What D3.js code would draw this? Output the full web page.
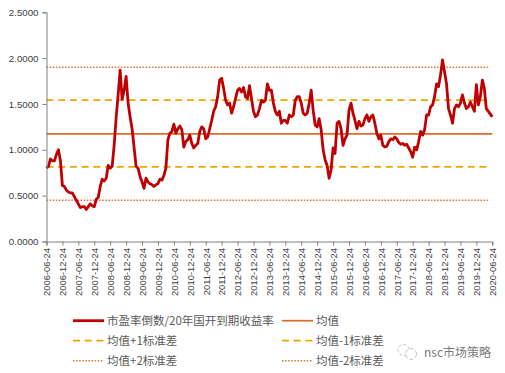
<!DOCTYPE html>
<html>
<head>
<meta charset="utf-8">
<script src="https://cdn.jsdelivr.net/npm/d3@7"></script>
<style>
    html, body { margin: 0; padding: 0; background: #fff; }
    svg { display: block; }
</style>
</head>
<body>
<svg id="chart" width="505" height="373"></svg>
<script>
var tickLabels = ["2006-06-24","2006-12-24","2007-06-24","2007-12-24","2008-06-24","2008-12-24","2009-06-24","2009-12-24",
    "2010-06-24","2010-12-24","2011-06-24","2011-12-24","2012-06-24","2012-12-24","2013-06-24","2013-12-24",
    "2014-06-24","2014-12-24","2015-06-24","2015-12-24","2016-06-24","2016-12-24","2017-06-24","2017-12-24",
    "2018-06-24","2018-12-24","2019-06-24","2019-12-24","2020-06-24"]
var yTicks = [0, 0.5, 1, 1.5, 2, 2.5]

// eight readings per half year, last one closes the axis
var ratio = [
    0.80,0.82,0.90,0.88,0.88,0.95,1.00,0.88,
    0.61,0.60,0.56,0.54,0.53,0.53,0.49,0.45,
    0.41,0.37,0.38,0.38,0.35,0.38,0.41,0.39,
    0.38,0.46,0.48,0.60,0.68,0.66,0.69,0.83,
    0.80,0.82,1.05,1.35,1.60,1.87,1.55,1.65,
    1.80,1.51,1.36,1.23,1.03,0.82,0.80,0.71,
    0.65,0.58,0.69,0.65,0.63,0.62,0.60,0.62,
    0.63,0.68,0.67,0.72,0.80,1.11,1.18,1.20,
    1.28,1.18,1.23,1.26,1.22,1.03,1.09,1.11,
    1.16,1.07,1.02,1.05,1.07,1.20,1.25,1.23,
    1.12,1.14,1.23,1.32,1.42,1.47,1.58,1.76,
    1.78,1.67,1.54,1.49,1.51,1.40,1.47,1.56,
    1.65,1.67,1.63,1.68,1.58,1.56,1.70,1.56,
    1.42,1.36,1.38,1.45,1.54,1.52,1.54,1.72,
    1.65,1.65,1.51,1.42,1.38,1.42,1.29,1.32,
    1.32,1.29,1.38,1.36,1.38,1.54,1.58,1.58,
    1.51,1.40,1.38,1.40,1.51,1.65,1.43,1.27,
    1.25,1.34,1.22,1.00,0.89,0.83,0.69,0.78,
    1.02,0.96,1.29,1.31,1.23,1.05,1.12,1.16,
    1.43,1.51,1.40,1.32,1.23,1.31,1.26,1.27,
    1.34,1.38,1.31,1.36,1.38,1.29,1.18,1.12,
    1.16,1.05,1.03,1.04,1.09,1.12,1.11,1.14,
    1.12,1.08,1.06,1.07,1.05,1.06,1.02,0.98,
    0.92,1.03,1.00,1.09,1.20,1.16,1.22,1.38,
    1.38,1.47,1.49,1.58,1.72,1.69,1.82,1.98,
    1.85,1.72,1.45,1.38,1.29,1.45,1.49,1.47,
    1.51,1.60,1.51,1.45,1.47,1.52,1.47,1.42,
    1.71,1.49,1.58,1.76,1.67,1.45,1.42,1.39,
    1.36
]
var mean = 1.175
var plus1 = 1.543
var minus1 = 0.815
var plus2 = 1.90
var minus2 = 0.451

var legendLabels = ["市盈率倒数/20年国开到期收益率","均值","均值+1标准差","均值-1标准差","均值+2标准差","均值-2标准差"]
var legendKeys = ["ratio","mean","dash","dash","dot","dot"]

var strokes = {
    ratio: {color: "#C00000", width: 2.8, dash: null},
    mean: {color: "#DC6A2C", width: 1.7, dash: null},
    dash: {color: "#EBA900", width: 1.7, dash: "7,4.7"},
    dot: {color: "#E0752F", width: 1.5, dash: "1.5,1.6"}
}

var svg = d3.select("#chart")
var left = 46.5, right = 492.3, top_ = 12.3, bottom = 241.5

var x = d3.scaleLinear().domain([0, ratio.length - 1]).range([left, right])
var xAxisScale = d3.scalePoint().domain(tickLabels).range([left, right])
var y = d3.scaleLinear().domain([0, 2.5]).range([bottom, top_])

function applyStroke(sel, key) {
    sel.attr("fill", "none")
        .attr("stroke", strokes[key].color)
        .attr("stroke-width", strokes[key].width)
    if (strokes[key].dash) sel.attr("stroke-dasharray", strokes[key].dash)
    return sel
}

// horizontal reference series
var levels = [[plus2, "dot"], [plus1, "dash"], [mean, "mean"], [minus1, "dash"], [minus2, "dot"]]
var line = d3.line().x(function(d) { return x(d[0]) }).y(function(d) { return y(d[1]) })
levels.forEach(function(l) {
    var end = l[1] === "mean" ? ratio.length - 1 : ratio.length - 3
    applyStroke(svg.append("path").attr("d", line([[0, l[0]], [end, l[0]]])), l[1])
})

// main series
applyStroke(svg.append("path").attr("d", line(ratio.map(function(v, i) { return [i, v] }))), "ratio")
    .attr("stroke-linejoin", "round")

// axes
var gy = svg.append("g").attr("transform", "translate(" + left + ",0)")
    .call(d3.axisLeft(y).tickValues(yTicks).tickFormat(d3.format(".4f")).tickSize(4).tickPadding(4))
var gx = svg.append("g").attr("transform", "translate(0," + bottom + ")")
    .call(d3.axisBottom(xAxisScale).tickSize(4))
svg.selectAll(".domain, .tick line").attr("stroke", "#808080")
gy.selectAll("text").attr("font-family", "Liberation Sans").attr("font-size", 9.7).attr("fill", "#404040")
gx.selectAll("text")
    .attr("font-family", "Liberation Sans").attr("font-size", 9.4).attr("fill", "#404040")
    .attr("transform", "rotate(-90)")
    .attr("text-anchor", "end")
    .attr("x", -6.5).attr("y", 0).attr("dy", "0.35em")

// legend
var legendX = d3.scalePoint().domain([0, 1]).range([73, 282])
var legendY = d3.scalePoint().domain([0, 1, 2]).range([320.7, 360.7])
legendLabels.forEach(function(label, i) {
    var col = i % 2, row = Math.floor(i / 2)
    var lx = legendX(col), ly = legendY(row)
    applyStroke(svg.append("line").attr("x1", lx).attr("x2", lx + 31).attr("y1", ly).attr("y2", ly), legendKeys[i])
    svg.append("text").attr("x", lx + 34).attr("y", ly).attr("dy", "0.36em")
        .attr("font-family", "Noto Sans CJK SC").attr("font-size", 11.5).attr("fill", "#595959")
        .text(label)
})

// watermark
var mark = svg.append("g").attr("fill", "#fff").attr("stroke", "#a8a8a8").attr("stroke-width", 0.7)
mark.append("circle").attr("cx", 403.5).attr("cy", 350).attr("r", 5.5).attr("stroke-dasharray", "3,2")
mark.append("circle").attr("cx", 411).attr("cy", 354).attr("r", 5.5).attr("stroke-dasharray", "4,2")
svg.append("text").attr("x", 424).attr("y", 352.5).attr("dy", "0.36em")
    .attr("font-family", "Noto Sans CJK SC").attr("font-size", 12).attr("fill", "#7a7a7a")
    .text("nsc市场策略")
</script>
</body>
</html>
